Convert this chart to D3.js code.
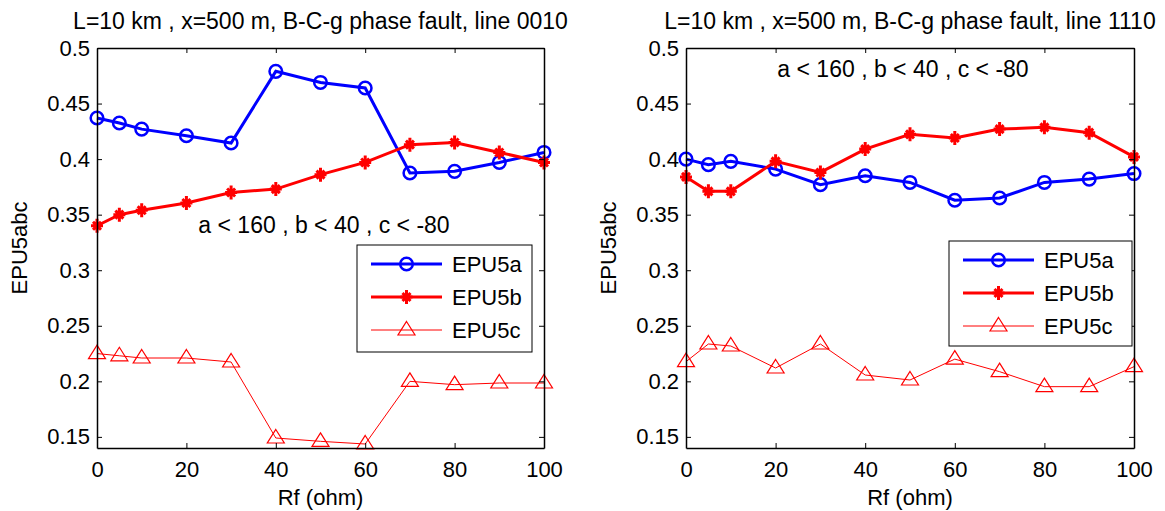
<!DOCTYPE html>
<html>
<head>
<meta charset="utf-8">
<script src="https://cdn.jsdelivr.net/npm/d3@7"></script>
<style>
  body { margin: 0; background: #fff; }
  svg text { font-family: "Liberation Sans", Arial, sans-serif; }
</style>
</head>
<body>
<div id="chart"></div>
<script>
// shared x values (Rf, ohm)
var rf = [0, 5, 10, 20, 30, 40, 50, 60, 70, 80, 90, 100];
var xTicks = [0, 20, 40, 60, 80, 100];
var yTicks = [0.15, 0.2, 0.25, 0.3, 0.35, 0.4, 0.45, 0.5];
var seriesNames = ['EPU5a', 'EPU5b', 'EPU5c'];

// left panel, line 0010
var left5a = [0.437, 0.4325, 0.427, 0.421, 0.4145, 0.479, 0.469, 0.464, 0.3875, 0.389, 0.397, 0.406];
var left5b = [0.340, 0.350, 0.354, 0.3605, 0.370, 0.373, 0.386, 0.397, 0.413, 0.415, 0.406, 0.397];
var left5c = [0.225, 0.223, 0.221, 0.221, 0.2174, 0.149, 0.146, 0.1436, 0.200, 0.197, 0.1985, 0.1985];

// right panel, line 1110
var right5a = [0.400, 0.395, 0.398, 0.391, 0.377, 0.385, 0.379, 0.363, 0.365, 0.379, 0.382, 0.387];
var right5b = [0.384, 0.371, 0.371, 0.398, 0.388, 0.409, 0.4223, 0.419, 0.427, 0.4286, 0.4238, 0.402];
var right5c = [0.2177, 0.2336, 0.2318, 0.212, 0.2336, 0.2057, 0.2012, 0.220, 0.2087, 0.1952, 0.1952, 0.2132];

var titles = ['L=10 km , x=500 m, B-C-g phase fault, line 0010',
              'L=10 km , x=500 m, B-C-g phase fault, line 1110'];
var note = 'a < 160 , b < 40 , c < -80';

var W = 1165, H = 511;
var svg = d3.select('#chart').append('svg').attr('width', W).attr('height', H);

var panels = [
  { x0: 97, x1: 544, data: [left5a, left5b, left5c], title: titles[0],
    note: { x: 324, y: 233 }, legend: { x: 357, y: 245, w: 175, h: 107 } },
  { x0: 686, x1: 1134, data: [right5a, right5b, right5c], title: titles[1],
    note: { x: 903, y: 77 }, legend: { x: 949, y: 241, w: 183, h: 105 } }
];
var plotTop = 48, plotBottom = 448;
var fs = 22, fsTitle = 23;

var styles = [
  { color: '#0000ff', width: 3, marker: 'circle' },
  { color: '#ff0000', width: 3, marker: 'star' },
  { color: '#ff0000', width: 1, marker: 'triangle' }
];

function drawMarker(g, type, color, cx, cy) {
  if (type == 'circle') {
    g.append('circle').attr('cx', cx).attr('cy', cy).attr('r', 6.3)
      .attr('fill', 'none').attr('stroke', color).attr('stroke-width', 2.5);
  } else if (type == 'star') {
    var s = 6;
    var p = 'M' + (cx - s) + ',' + cy + 'L' + (cx + s) + ',' + cy +
      'M' + cx + ',' + (cy - s - 1) + 'L' + cx + ',' + (cy + s + 1) +
      'M' + (cx - 4) + ',' + (cy - 4) + 'L' + (cx + 4) + ',' + (cy + 4) +
      'M' + (cx - 4) + ',' + (cy + 4) + 'L' + (cx + 4) + ',' + (cy - 4);
    g.append('path').attr('d', p).attr('stroke', color).attr('stroke-width', 3)
      .attr('fill', 'none');
  } else {
    var p2 = 'M' + cx + ',' + (cy - 8.5) + 'L' + (cx + 8.5) + ',' + (cy + 5) +
      'L' + (cx - 8.5) + ',' + (cy + 5) + 'Z';
    g.append('path').attr('d', p2).attr('stroke', color).attr('stroke-width', 1.2)
      .attr('fill', 'none');
  }
}

panels.forEach(function(p) {
  var x = d3.scaleLinear().domain([0, 100]).range([p.x0, p.x1]);
  var y = d3.scaleLinear().domain([0.14, 0.5]).range([plotBottom, plotTop]);
  var g = svg.append('g');

  // series
  p.data.forEach(function(vals, i) {
    var st = styles[i];
    var line = d3.line().x(function(d, k) { return x(rf[k]); }).y(function(d) { return y(d); });
    g.append('path').datum(vals).attr('d', line).attr('fill', 'none')
      .attr('stroke', st.color).attr('stroke-width', st.width);
    vals.forEach(function(v, k) {
      drawMarker(g, st.marker, st.color, x(rf[k]), y(v));
    });
  });

  // axes box with inward ticks
  var fmt = function(d) { return String(+d.toFixed(2)); };
  g.append('g').attr('transform', 'translate(0,' + plotBottom + ')')
    .call(d3.axisBottom(x).tickValues(xTicks).tickSizeInner(-5).tickSizeOuter(0).tickPadding(13));
  g.append('g').attr('transform', 'translate(0,' + plotTop + ')')
    .call(d3.axisTop(x).tickValues(xTicks).tickSizeInner(-5).tickSizeOuter(0).tickFormat(''));
  g.append('g').attr('transform', 'translate(' + p.x0 + ',0)')
    .call(d3.axisLeft(y).tickValues(yTicks).tickSizeInner(-5).tickSizeOuter(0).tickPadding(7).tickFormat(fmt));
  g.append('g').attr('transform', 'translate(' + p.x1 + ',0)')
    .call(d3.axisRight(y).tickValues(yTicks).tickSizeInner(-5).tickSizeOuter(0).tickFormat(''));
  g.selectAll('.domain').attr('stroke', '#000').attr('stroke-width', 1.5);
  g.selectAll('.tick line').attr('stroke', '#000');
  g.selectAll('.tick text').attr('font-size', fs).attr('fill', '#000')
    .attr('font-family', '"Liberation Sans", Arial, sans-serif');

  // title, labels, note
  var cx = (p.x0 + p.x1) / 2;
  g.append('text').attr('x', cx).attr('y', 29).attr('text-anchor', 'middle')
    .attr('font-size', fsTitle).text(p.title);
  g.append('text').attr('x', cx).attr('y', 505).attr('text-anchor', 'middle')
    .attr('font-size', fs).text('Rf (ohm)');
  g.append('text').attr('transform', 'translate(' + (p.x0 - 70) + ',' + 248 + ') rotate(-90)')
    .attr('text-anchor', 'middle').attr('font-size', fs).text('EPU5abc');
  g.append('text').attr('x', p.note.x).attr('y', p.note.y).attr('text-anchor', 'middle')
    .attr('font-size', fsTitle).text(note);

  // legend
  var L = p.legend;
  g.append('rect').attr('x', L.x).attr('y', L.y).attr('width', L.w).attr('height', L.h)
    .attr('fill', '#fff').attr('stroke', '#000').attr('stroke-width', 1);
  seriesNames.forEach(function(name, i) {
    var st = styles[i];
    var ry = L.y + 19 + i * 33;
    g.append('line').attr('x1', L.x + 14).attr('x2', L.x + 85).attr('y1', ry).attr('y2', ry)
      .attr('stroke', st.color).attr('stroke-width', st.width);
    drawMarker(g, st.marker, st.color, L.x + 49.5, ry);
    g.append('text').attr('x', L.x + 95).attr('y', ry + 8).attr('font-size', fs).text(name);
  });
});
</script>
</body>
</html>
